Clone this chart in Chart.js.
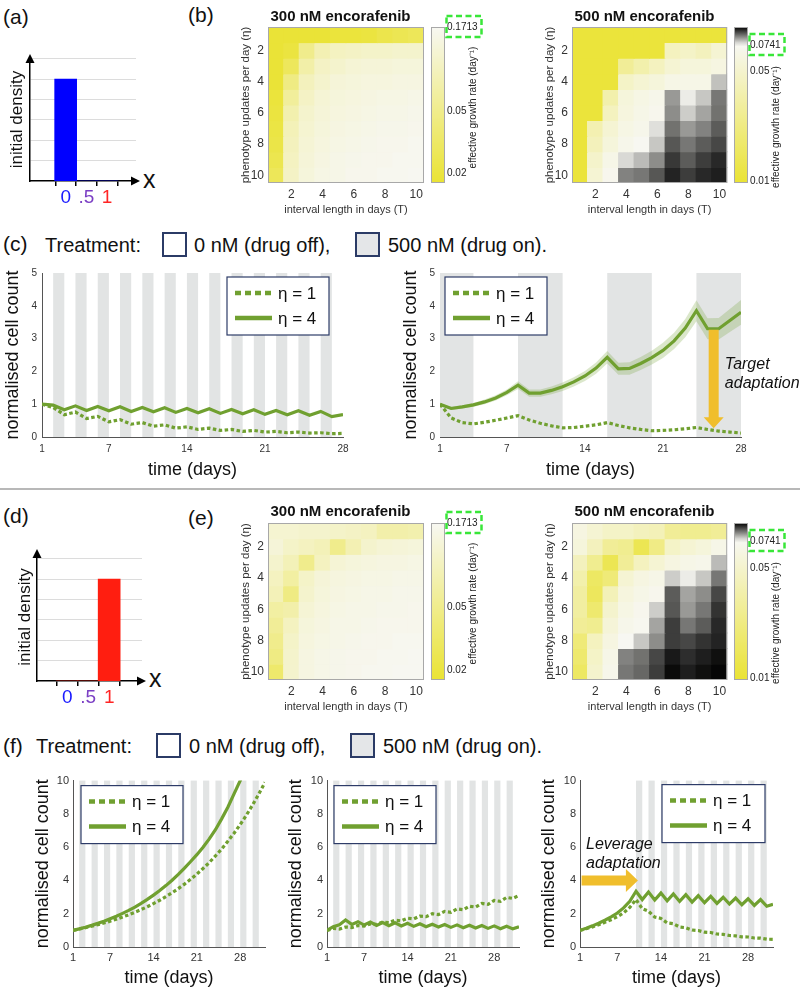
<!DOCTYPE html>
<html>
<head>
<meta charset="utf-8">
<title>encorafenib adaptation</title>
<script src="https://cdn.jsdelivr.net/npm/chart.js@4.4.1/dist/chart.umd.min.js"></script>
<style>
  html, body { margin: 0; padding: 0; background: #fff; }
  #page { position: relative; width: 800px; height: 989px; overflow: hidden; font-family: 'Liberation Sans', Arial, sans-serif; color: #111; }
  .box { position: absolute; }
  .box canvas { display: block; }
  .txt { position: absolute; white-space: nowrap; line-height: 1; }
  .panel { font-size: 21px; }
  .treat { font-size: 20px; }
  .axx { font-size: 25px; }
  .swatch { position: absolute; width: 25px; height: 25px; box-sizing: border-box; border: 2px solid #2b3b66; }
  #sep { position: absolute; left: 0; top: 488px; width: 800px; height: 2px; background: #b8b8b8; }
</style>
</head>
<body>
<div id="page">
  <div class="txt panel" style="left:3px;top:6px">(a)</div>
  <div class="txt panel" style="left:188px;top:4px">(b)</div>
  <div class="txt axx" style="left:143px;top:167px">x</div>

  <div class="txt panel" style="left:3px;top:233px">(c)</div>
  <div class="txt treat" style="left:45px;top:235px">Treatment:</div>
  <div class="swatch" style="left:162px;top:232px;background:#fff"></div>
  <div class="txt treat" style="left:194px;top:235px">0 nM (drug off),</div>
  <div class="swatch" style="left:355px;top:232px;background:#e4e6e8"></div>
  <div class="txt treat" style="left:388px;top:235px">500 nM (drug on).</div>

  <div id="sep"></div>

  <div class="txt panel" style="left:3px;top:505px">(d)</div>
  <div class="txt panel" style="left:188px;top:507px">(e)</div>
  <div class="txt axx" style="left:149px;top:666px">x</div>

  <div class="txt panel" style="left:3px;top:735px">(f)</div>
  <div class="txt treat" style="left:36px;top:736px">Treatment:</div>
  <div class="swatch" style="left:156px;top:733px;background:#fff"></div>
  <div class="txt treat" style="left:189px;top:736px">0 nM (drug off),</div>
  <div class="swatch" style="left:350px;top:733px;background:#e4e6e8"></div>
  <div class="txt treat" style="left:383px;top:736px">500 nM (drug on).</div>
</div>

<script>
Chart.defaults.font.family = "'Liberation Sans', Arial, sans-serif";
Chart.defaults.color = '#333';
Chart.defaults.animation = false;
Chart.defaults.plugins.legend.display = false;
Chart.defaults.plugins.tooltip.enabled = false;

// ---------- data ----------

// (a), (d) initial densities
const densityX = [0, 0.5, 1];
const densityLabels = ['0', '.5', '1'];
const densityColors = ['#1a1aff', '#7b3fc4', '#ff2424'];
const densityA = [5, 0, 0];
const densityD = [0, 0, 5];
const densityGrid = [1, 2, 3, 4, 5, 6];

// (b), (e) heatmaps: rows = phenotype updates per day, cols = interval length
const heatT = [1, 2, 3, 4, 5, 6, 7, 8, 9, 10];
const heatEta = [1, 2, 3, 4, 5, 6, 7, 8, 9, 10];
const heatTicks = [2, 4, 6, 8, 10];

const rate300a = [
  [0.018, 0.018, 0.018, 0.018, 0.019, 0.019, 0.020, 0.023, 0.025, 0.027],
  [0.018, 0.020, 0.050, 0.080, 0.095, 0.100, 0.105, 0.105, 0.110, 0.110],
  [0.018, 0.028, 0.070, 0.100, 0.110, 0.120, 0.125, 0.125, 0.130, 0.130],
  [0.018, 0.045, 0.090, 0.110, 0.125, 0.130, 0.135, 0.135, 0.140, 0.140],
  [0.019, 0.060, 0.100, 0.120, 0.130, 0.135, 0.140, 0.145, 0.145, 0.150],
  [0.020, 0.075, 0.110, 0.125, 0.135, 0.140, 0.145, 0.150, 0.150, 0.155],
  [0.021, 0.085, 0.115, 0.130, 0.140, 0.145, 0.150, 0.155, 0.155, 0.160],
  [0.022, 0.090, 0.120, 0.135, 0.145, 0.150, 0.155, 0.160, 0.160, 0.165],
  [0.024, 0.095, 0.125, 0.140, 0.150, 0.155, 0.160, 0.160, 0.165, 0.165],
  [0.027, 0.100, 0.130, 0.145, 0.150, 0.160, 0.160, 0.165, 0.165, 0.170]
];

const rate500a = [
  [0.0105, 0.0105, 0.0105, 0.0105, 0.0105, 0.0105, 0.0105, 0.0105, 0.0105, 0.0105],
  [0.0105, 0.0105, 0.0105, 0.0105, 0.0105, 0.0105, 0.043, 0.047, 0.042, 0.053],
  [0.0105, 0.0105, 0.0105, 0.028, 0.035, 0.043, 0.053, 0.058, 0.058, 0.062],
  [0.0105, 0.0105, 0.0105, 0.047, 0.053, 0.058, 0.065, 0.066, 0.066, 0.0785],
  [0.0105, 0.0105, 0.035, 0.058, 0.064, 0.068, 0.082, 0.075, 0.078, 0.085],
  [0.0105, 0.0105, 0.043, 0.060, 0.066, 0.070, 0.083, 0.0775, 0.081, 0.0855],
  [0.0105, 0.037, 0.053, 0.064, 0.068, 0.076, 0.0855, 0.082, 0.084, 0.0875],
  [0.0105, 0.041, 0.058, 0.068, 0.073, 0.078, 0.088, 0.085, 0.0875, 0.0895],
  [0.0105, 0.049, 0.066, 0.0765, 0.079, 0.083, 0.091, 0.0875, 0.0905, 0.0925],
  [0.0105, 0.053, 0.070, 0.084, 0.085, 0.088, 0.093, 0.0905, 0.0925, 0.0935]
];

const rate300b = [
  [0.115, 0.115, 0.110, 0.110, 0.105, 0.100, 0.094, 0.072, 0.072, 0.075],
  [0.125, 0.103, 0.094, 0.085, 0.050, 0.080, 0.110, 0.120, 0.125, 0.130],
  [0.110, 0.085, 0.050, 0.094, 0.120, 0.130, 0.135, 0.140, 0.140, 0.145],
  [0.094, 0.065, 0.103, 0.125, 0.135, 0.140, 0.145, 0.145, 0.150, 0.150],
  [0.085, 0.045, 0.110, 0.130, 0.140, 0.145, 0.150, 0.150, 0.155, 0.155],
  [0.065, 0.072, 0.120, 0.135, 0.145, 0.150, 0.150, 0.155, 0.155, 0.160],
  [0.057, 0.094, 0.130, 0.140, 0.150, 0.150, 0.155, 0.160, 0.160, 0.160],
  [0.050, 0.103, 0.135, 0.145, 0.150, 0.155, 0.160, 0.160, 0.165, 0.165],
  [0.045, 0.108, 0.140, 0.150, 0.155, 0.160, 0.160, 0.165, 0.165, 0.170],
  [0.034, 0.110, 0.140, 0.150, 0.155, 0.160, 0.165, 0.165, 0.170, 0.170]
];

const rate500b = [
  [0.062, 0.053, 0.047, 0.047, 0.042, 0.040, 0.028, 0.026, 0.026, 0.028],
  [0.058, 0.042, 0.028, 0.026, 0.0135, 0.023, 0.047, 0.053, 0.058, 0.066],
  [0.042, 0.026, 0.0135, 0.028, 0.043, 0.053, 0.062, 0.066, 0.068, 0.079],
  [0.035, 0.016, 0.020, 0.053, 0.062, 0.066, 0.0775, 0.075, 0.078, 0.085],
  [0.031, 0.015, 0.040, 0.060, 0.066, 0.070, 0.0875, 0.081, 0.083, 0.0895],
  [0.031, 0.018, 0.050, 0.064, 0.070, 0.0775, 0.088, 0.082, 0.085, 0.0915],
  [0.028, 0.026, 0.056, 0.068, 0.072, 0.081, 0.0905, 0.085, 0.0875, 0.0925],
  [0.020, 0.043, 0.062, 0.074, 0.078, 0.083, 0.0905, 0.0895, 0.0915, 0.093],
  [0.018, 0.047, 0.066, 0.084, 0.0855, 0.0895, 0.094, 0.092, 0.0935, 0.095],
  [0.016, 0.050, 0.068, 0.085, 0.0865, 0.0905, 0.0955, 0.0935, 0.095, 0.096]
];

// colour limits: [low (yellow), white point, high (black)]
const cbar300 = [0.0173, 0.1713, 0.1713];
const cbar500 = [0.0097, 0.0741, 0.0966];
const cbarTicks300 = [0.02, 0.05, 0.1713];
const cbarTicks500 = [0.01, 0.05, 0.0741];

// green dashed threshold curve on the 500 nM maps
const dashT = [3.25, 3.6, 4.0, 4.6, 5.3, 6.2, 7.2, 8.4, 9.5, 10.5];
const dashEta = [10.5, 9.4, 8.4, 7.3, 6.3, 5.4, 4.7, 4.0, 3.55, 3.2];

// (c) cell counts
const cDays = [1, 2, 3, 4, 5, 6, 7, 8, 9, 10, 11, 12, 13, 14, 15, 16, 17, 18, 19, 20, 21, 22, 23, 24, 25, 26, 27, 28];
const cTicks = [1, 7, 14, 21, 28];
const cYTicks = [0, 1, 2, 3, 4, 5];

const cLeftEta1 = [1.00, 0.90, 0.68, 0.76, 0.56, 0.63, 0.46, 0.53, 0.39, 0.44, 0.33, 0.37, 0.27, 0.31, 0.23, 0.27, 0.20, 0.23, 0.17, 0.20, 0.15, 0.17, 0.13, 0.15, 0.12, 0.13, 0.10, 0.11];
const cLeftEta4 = [1.00, 0.97, 0.83, 0.95, 0.81, 0.93, 0.80, 0.92, 0.78, 0.90, 0.77, 0.89, 0.75, 0.87, 0.74, 0.86, 0.72, 0.84, 0.71, 0.83, 0.69, 0.81, 0.68, 0.80, 0.66, 0.78, 0.62, 0.68];
const cLeftOnStart = [2, 4, 6, 8, 10, 12, 14, 16, 18, 20, 22, 24, 26];
const cLeftOnEnd = [3, 5, 7, 9, 11, 13, 15, 17, 19, 21, 23, 25, 27];

const cRightEta1 = [1.00, 0.58, 0.44, 0.40, 0.45, 0.51, 0.58, 0.65, 0.52, 0.42, 0.34, 0.28, 0.29, 0.33, 0.37, 0.44, 0.35, 0.28, 0.23, 0.19, 0.20, 0.22, 0.25, 0.29, 0.23, 0.18, 0.15, 0.12];
const cRightEta4 = [1.00, 0.87, 0.92, 0.98, 1.07, 1.19, 1.36, 1.58, 1.34, 1.34, 1.42, 1.53, 1.68, 1.86, 2.10, 2.43, 2.08, 2.09, 2.24, 2.42, 2.64, 2.93, 3.32, 3.85, 3.30, 3.30, 3.55, 3.80];
const cRightEta4Hi = [1.03, 0.92, 0.97, 1.04, 1.14, 1.27, 1.45, 1.70, 1.45, 1.45, 1.54, 1.66, 1.82, 2.01, 2.27, 2.62, 2.26, 2.28, 2.44, 2.63, 2.87, 3.18, 3.60, 4.17, 3.62, 3.63, 3.90, 4.18];
const cRightEta4Lo = [0.97, 0.82, 0.87, 0.92, 1.00, 1.11, 1.27, 1.46, 1.23, 1.23, 1.30, 1.40, 1.54, 1.71, 1.93, 2.24, 1.90, 1.90, 2.04, 2.21, 2.41, 2.68, 3.04, 3.53, 2.98, 2.97, 3.20, 3.42];
const cRightOnStart = [1, 8, 16, 24];
const cRightOnEnd = [4, 12, 20, 28];

// (f) cell counts
const fDays = [1, 2, 3, 4, 5, 6, 7, 8, 9, 10, 11, 12, 13, 14, 15, 16, 17, 18, 19, 20, 21, 22, 23, 24, 25, 26, 27, 28, 29, 30, 31, 32];
const fTicks = [1, 7, 14, 21, 28];
const fYTicks = [0, 2, 4, 6, 8, 10];

const f1Eta1 = [1.00, 1.08, 1.16, 1.25, 1.34, 1.44, 1.55, 1.67, 1.80, 1.94, 2.09, 2.25, 2.42, 2.61, 2.81, 3.03, 3.26, 3.51, 3.78, 4.07, 4.38, 4.72, 5.08, 5.47, 5.89, 6.35, 6.84, 7.36, 7.93, 8.54, 9.20, 9.90];
const f1Eta4 = [1.00, 1.09, 1.19, 1.30, 1.42, 1.55, 1.70, 1.85, 2.02, 2.20, 2.40, 2.62, 2.86, 3.12, 3.39, 3.69, 4.01, 4.36, 4.74, 5.14, 5.55, 6.00, 6.50, 7.05, 7.70, 8.40, 9.20, 10.00, 10.90];
const f2Eta1 = [1.00, 1.11, 1.08, 1.20, 1.17, 1.29, 1.26, 1.39, 1.36, 1.50, 1.46, 1.61, 1.57, 1.73, 1.69, 1.86, 1.82, 2.00, 1.95, 2.14, 2.09, 2.29, 2.24, 2.45, 2.40, 2.62, 2.56, 2.80, 2.74, 2.98, 2.92, 3.10];
const f2Eta4 = [1.00, 1.22, 1.33, 1.62, 1.36, 1.52, 1.32, 1.50, 1.30, 1.47, 1.28, 1.45, 1.26, 1.42, 1.24, 1.40, 1.22, 1.37, 1.20, 1.35, 1.18, 1.33, 1.16, 1.31, 1.14, 1.29, 1.12, 1.27, 1.10, 1.25, 1.09, 1.22];
const f3Eta1 = [1.00, 1.10, 1.21, 1.34, 1.48, 1.64, 1.82, 2.05, 2.38, 2.85, 2.30, 2.15, 1.80, 1.72, 1.45, 1.40, 1.20, 1.16, 1.02, 0.99, 0.89, 0.87, 0.78, 0.76, 0.69, 0.67, 0.61, 0.60, 0.54, 0.53, 0.47, 0.46];
const f3Eta4 = [1.00, 1.13, 1.27, 1.43, 1.61, 1.81, 2.04, 2.35, 2.75, 3.35, 2.85, 3.30, 2.82, 3.24, 2.78, 3.19, 2.74, 3.14, 2.70, 3.09, 2.66, 3.04, 2.62, 2.99, 2.58, 2.94, 2.54, 2.90, 2.50, 2.85, 2.45, 2.56];
const fOnStart = [2, 4, 6, 8, 10, 12, 14, 16, 18, 20, 22, 24, 26, 28, 30];
const fOnEnd = [3, 5, 7, 9, 11, 13, 15, 17, 19, 21, 23, 25, 27, 29, 31];
const f3OnStart = [10, 12, 14, 16, 18, 20, 22, 24, 26, 28, 30];
const f3OnEnd = [11, 13, 15, 17, 19, 21, 23, 25, 27, 29, 31];

// ---------- styles ----------
const FONT = "'Liberation Sans', Arial, sans-serif";
const green = '#70a030';
const greenShade = 'rgba(112,160,48,0.25)';
const bandColor = '#e2e4e4';
const arrowColor = '#f0be2c';
const yellowRGB = [234, 227, 52];
const whiteRGB = [247, 247, 242];
const blackRGB = [0, 0, 0];

function mix(a, b, t) {
  t = Math.max(0, Math.min(1, t));
  return a.map((v, i) => Math.round(v + (b[i] - v) * t));
}

// log colour scale: yellow -> white at lims[1] -> black at lims[2]
function heatColor(v, lims) {
  const lv = Math.log(v);
  let c;
  if (v <= lims[1]) {
    c = mix(yellowRGB, whiteRGB, (lv - Math.log(lims[0])) / (Math.log(lims[1]) - Math.log(lims[0])));
  } else {
    c = mix(whiteRGB, blackRGB, (lv - Math.log(lims[1])) / (Math.log(lims[2]) - Math.log(lims[1])));
  }
  return 'rgb(' + c.join(',') + ')';
}

function addCanvas(box) {
  const div = document.createElement('div');
  div.className = 'box';
  div.style.left = box.l + 'px';
  div.style.top = box.t + 'px';
  div.style.width = (box.r - box.l) + 'px';
  div.style.height = (box.b - box.t) + 'px';
  const c = document.createElement('canvas');
  div.appendChild(c);
  document.getElementById('page').appendChild(div);
  return c;
}

function toPoints(xs, ys) {
  return ys.map((y, i) => ({ x: xs[i], y: y }));
}

// ---------- plugins ----------
function bandsPlugin(starts, ends) {
  return {
    id: 'bands',
    beforeDatasetsDraw(chart) {
      const { ctx, chartArea } = chart;
      const xs = chart.scales.x;
      ctx.save();
      ctx.fillStyle = bandColor;
      starts.forEach((s, i) => {
        const a = xs.getPixelForValue(s);
        const b = xs.getPixelForValue(ends[i]);
        ctx.fillRect(a, chartArea.top, b - a, chartArea.bottom - chartArea.top);
      });
      ctx.restore();
    }
  };
}

function legendPlugin(dx, dy, w, h) {
  return {
    id: 'legendBox',
    afterDatasetsDraw(chart) {
      const { ctx, chartArea } = chart;
      const x = chartArea.left + dx;
      const y = chartArea.top + dy;
      ctx.save();
      ctx.fillStyle = '#fff';
      ctx.fillRect(x, y, w, h);
      ctx.strokeStyle = '#2e3c68';
      ctx.lineWidth = 1.2;
      ctx.strokeRect(x, y, w, h);
      const entries = chart.data.datasets.filter(d => d.label);
      entries.forEach((d, i) => {
        const yy = y + 16 + i * 25;
        ctx.beginPath();
        ctx.setLineDash(d.borderDash && d.borderDash.length ? [6, 4] : []);
        ctx.strokeStyle = d.borderColor;
        ctx.lineWidth = 4.5;
        ctx.moveTo(x + 8, yy);
        ctx.lineTo(x + 45, yy);
        ctx.stroke();
        ctx.setLineDash([]);
        ctx.fillStyle = '#111';
        ctx.font = '17px ' + FONT;
        ctx.textAlign = 'left';
        ctx.textBaseline = 'middle';
        ctx.fillText(d.label, x + 51, yy + 1);
      });
      ctx.restore();
    }
  };
}

function arrowPlugin(x0, y0, x1, y1, halfBody, headLen, halfHead) {
  return {
    id: 'bigArrow',
    afterDatasetsDraw(chart) {
      const { ctx } = chart;
      const xs = chart.scales.x, ys = chart.scales.y;
      const ax = xs.getPixelForValue(x0), ay = ys.getPixelForValue(y0);
      const bx = xs.getPixelForValue(x1), by = ys.getPixelForValue(y1);
      const len = Math.hypot(bx - ax, by - ay);
      ctx.save();
      ctx.translate(ax, ay);
      ctx.rotate(Math.atan2(by - ay, bx - ax));
      ctx.fillStyle = arrowColor;
      ctx.beginPath();
      ctx.moveTo(0, -halfBody);
      ctx.lineTo(len - headLen, -halfBody);
      ctx.lineTo(len - headLen, -halfHead);
      ctx.lineTo(len, 0);
      ctx.lineTo(len - headLen, halfHead);
      ctx.lineTo(len - headLen, halfBody);
      ctx.lineTo(0, halfBody);
      ctx.closePath();
      ctx.fill();
      ctx.restore();
    }
  };
}

// texts placed in data units (data: true) or in px from the chart area corner
function textPlugin(items) {
  return {
    id: 'texts',
    afterDraw(chart) {
      const { ctx, chartArea } = chart;
      items.forEach(it => {
        let x, y;
        if (it.data) {
          x = chart.scales.x.getPixelForValue(it.x);
          y = chart.scales.y.getPixelForValue(it.y);
        } else {
          x = chartArea.left + it.x;
          y = chartArea.top + it.y;
        }
        ctx.save();
        ctx.translate(x, y);
        if (it.rot) ctx.rotate(it.rot);
        ctx.font = it.font;
        ctx.fillStyle = it.color || '#111';
        ctx.textAlign = it.align || 'left';
        ctx.textBaseline = 'middle';
        ctx.fillText(it.text, 0, 0);
        ctx.restore();
      });
    }
  };
}

const framePlugin = {
  id: 'frame',
  afterDatasetsDraw(chart) {
    const { ctx, chartArea: a } = chart;
    ctx.save();
    ctx.strokeStyle = '#a8a8a8';
    ctx.lineWidth = 1;
    ctx.strokeRect(a.left + 0.5, a.top + 0.5, a.right - a.left - 1, a.bottom - a.top - 1);
    ctx.restore();
  }
};

function limitBoxPlugin(value) {
  return {
    id: 'limitBox',
    afterDraw(chart) {
      const { ctx, chartArea } = chart;
      const y = chart.scales.y.getPixelForValue(value);
      ctx.save();
      ctx.setLineDash([6, 3.5]);
      ctx.strokeStyle = '#39e639';
      ctx.lineWidth = 2.5;
      ctx.strokeRect(chartArea.right + 1.5, y - 11, 35, 21);
      ctx.restore();
    }
  };
}

const axisArrows = {
  id: 'axisArrows',
  afterDraw(chart) {
    const { ctx, chartArea: a } = chart;
    ctx.save();
    ctx.fillStyle = '#000';
    ctx.beginPath();
    ctx.moveTo(a.left, a.top - 4);
    ctx.lineTo(a.left - 4.5, a.top + 5);
    ctx.lineTo(a.left + 4.5, a.top + 5);
    ctx.closePath();
    ctx.fill();
    ctx.beginPath();
    ctx.moveTo(a.right + 4, a.bottom);
    ctx.lineTo(a.right - 5, a.bottom - 4.5);
    ctx.lineTo(a.right - 5, a.bottom + 4.5);
    ctx.closePath();
    ctx.fill();
    ctx.restore();
  }
};

// ---------- (a), (d) ----------
function densityChart(box, area, values, barColor, px0, pxPerUnit, titleCenter) {
  new Chart(addCanvas(box), {
    type: 'bar',
    data: {
      datasets: [{
        data: toPoints(densityX, values),
        backgroundColor: barColor,
        barThickness: 22,
        borderWidth: 0
      }]
    },
    options: {
      responsive: true,
      maintainAspectRatio: false,
      layout: { padding: { top: area.t - box.t, right: box.r - area.r, left: 0, bottom: 0 } },
      scales: {
        x: {
          type: 'linear',
          min: (area.l - px0) / pxPerUnit,
          max: (area.r - px0) / pxPerUnit,
          afterBuildTicks: s => { s.ticks = densityX.map(v => ({ value: v })); },
          ticks: {
            callback: (v, i) => densityLabels[i],
            color: c => densityColors[c.index],
            font: { size: 19 },
            padding: 0
          },
          grid: { display: true, drawOnChartArea: false, drawTicks: true, tickLength: 5, color: '#000', lineWidth: 1.5 },
          border: { display: true, color: '#000', width: 1.5 },
          afterFit: s => { s.height = box.b - area.b; }
        },
        y: {
          min: 0,
          max: (area.b - area.t) / 20.4,
          afterBuildTicks: s => { s.ticks = densityGrid.map(v => ({ value: v })); },
          ticks: { display: false },
          grid: { color: '#dcdcdc', drawTicks: false },
          border: { display: true, color: '#000', width: 1.5 },
          title: { display: true, text: 'initial density', font: { size: 17 }, color: '#111', padding: { top: titleCenter - box.l - 10.2, bottom: 0 } },
          afterFit: s => { s.width = area.l - box.l; }
        }
      }
    },
    plugins: [axisArrows]
  });
}

densityChart({ l: 0, t: 38, r: 165, b: 222 }, { l: 30, t: 58, r: 136, b: 181 }, densityA, '#0000ff', 57, 62, 17.5);
densityChart({ l: 0, t: 533, r: 175, b: 718 }, { l: 37, t: 553, r: 142, b: 681 }, densityD, '#ff1e10', 56, 63, 25);

// ---------- (b), (e) heatmaps ----------
function heatChart(box, area, rates, lims, title, withCurve) {
  const datasets = heatEta.map((eta, r) => ({
    type: 'bar',
    data: heatT.map(() => [eta - 0.5, eta + 0.5]),
    backgroundColor: rates[r].map(v => heatColor(v, lims)),
    borderWidth: 0,
    inflateAmount: 0.5,
    barPercentage: 1,
    categoryPercentage: 1,
    grouped: false,
    xAxisID: 'x',
    yAxisID: 'y'
  }));
  if (withCurve) {
    datasets.push({
      type: 'line',
      data: toPoints(dashT, dashEta),
      xAxisID: 'x2',
      yAxisID: 'y',
      borderColor: '#3ded3d',
      borderWidth: 3,
      borderDash: [9, 7],
      pointRadius: 0,
      fill: false,
      tension: 0.3
    });
  }
  new Chart(addCanvas(box), {
    type: 'bar',
    data: { labels: heatT.map(String), datasets: datasets },
    options: {
      responsive: true,
      maintainAspectRatio: false,
      layout: { padding: { top: area.t - box.t, right: box.r - area.r, left: 0, bottom: 0 } },
      scales: {
        x: {
          type: 'category',
          offset: true,
          grid: { display: false, drawTicks: false },
          border: { display: false },
          ticks: {
            autoSkip: false,
            maxRotation: 0,
            font: { size: 12 },
            padding: 4.8,
            callback: (v, i) => (heatT[i] % 2 === 0 ? String(heatT[i]) : '')
          },
          title: { display: true, text: 'interval length in days (T)', font: { size: 11 }, color: '#333', padding: { top: 0, bottom: box.b - 6.6 - (area.b + 27) } },
          afterFit: s => { s.height = box.b - area.b; }
        },
        x2: { type: 'linear', display: false, min: 0.5, max: 10.5 },
        y: {
          type: 'linear',
          reverse: true,
          min: 0.5,
          max: 10.5,
          afterBuildTicks: s => { s.ticks = heatTicks.map(v => ({ value: v })); },
          grid: { display: false, drawTicks: false },
          border: { display: false },
          ticks: { font: { size: 12 }, padding: 4 },
          title: { display: true, text: 'phenotype updates per day (η)', font: { size: 11.5 }, color: '#333', padding: { top: area.l - 22.5 - box.l - 6.9, bottom: 0 } },
          afterFit: s => { s.width = area.l - box.l; }
        }
      }
    },
    plugins: [framePlugin, textPlugin([
      { text: title, x: 72.5, y: area.t < 100 ? -10 : -11.3, font: 'bold 15px ' + FONT, align: 'center', color: '#111' }
    ])]
  });
}

function colorbarChart(box, area, lims, ticks, labelY) {
  const lo = lims[0], hi = lims[2];
  new Chart(addCanvas(box), {
    type: 'bar',
    data: {
      labels: [''],
      datasets: [{
        data: [[lo, hi]],
        barPercentage: 1,
        categoryPercentage: 1,
        borderWidth: 0,
        backgroundColor: (c) => {
          const chart = c.chart;
          const a = chart.chartArea;
          if (!a) return null;
          const g = chart.ctx.createLinearGradient(0, a.bottom, 0, a.top);
          for (let k = 0; k <= 40; k++) {
            const f = k / 40;
            g.addColorStop(f, heatColor(lo * Math.pow(hi / lo, f), lims));
          }
          return g;
        }
      }]
    },
    options: {
      responsive: true,
      maintainAspectRatio: false,
      layout: { padding: { top: area.t - box.t, bottom: box.b - area.b, left: 0, right: 0 } },
      scales: {
        x: { display: false, offset: true },
        y: {
          type: 'logarithmic',
          position: 'right',
          min: lo,
          max: hi,
          afterBuildTicks: s => { s.ticks = ticks.map(v => ({ value: v })); },
          ticks: { callback: v => String(v), font: { size: 10 }, padding: 2, color: '#222' },
          grid: { display: false, drawTicks: false },
          border: { display: false },
          afterFit: s => { s.width = box.r - area.r; }
        }
      }
    },
    plugins: [framePlugin, limitBoxPlugin(ticks[ticks.length - 1]), textPlugin([
      { text: 'effective growth rate (day⁻¹)', x: (area.r - area.l) + 28.5, y: labelY, rot: -Math.PI / 2, font: '10px ' + FONT, align: 'center', color: '#222' }
    ])]
  });
}

heatChart({ l: 222, t: 0, r: 428, b: 220 }, { l: 268, t: 27, r: 424, b: 183 }, rate300a, cbar300, '300 nM encorafenib', false);
colorbarChart({ l: 431, t: 8, r: 495, b: 193 }, { l: 431, t: 27, r: 445, b: 183 }, cbar300, cbarTicks300, 80.5);
heatChart({ l: 526, t: 0, r: 731, b: 220 }, { l: 572, t: 27, r: 729, b: 183 }, rate500a, cbar500, '500 nM encorafenib', true);
colorbarChart({ l: 734, t: 8, r: 798, b: 193 }, { l: 734, t: 27, r: 748, b: 183 }, cbar500, cbarTicks500, 100);

heatChart({ l: 222, t: 496, r: 428, b: 716 }, { l: 268, t: 523, r: 424, b: 680 }, rate300b, cbar300, '300 nM encorafenib', false);
colorbarChart({ l: 431, t: 504, r: 495, b: 690 }, { l: 431, t: 523, r: 445, b: 680 }, cbar300, cbarTicks300, 80.5);
heatChart({ l: 526, t: 496, r: 731, b: 716 }, { l: 572, t: 523, r: 729, b: 680 }, rate500b, cbar500, '500 nM encorafenib', true);
colorbarChart({ l: 734, t: 504, r: 798, b: 690 }, { l: 734, t: 523, r: 748, b: 680 }, cbar500, cbarTicks500, 100);

// ---------- (c), (f) cell counts ----------
function countChart(box, area, o) {
  const datasets = [];
  if (o.hi) {
    datasets.push({ data: toPoints(o.days, o.hi), borderWidth: 0, pointRadius: 0, fill: '+1', backgroundColor: greenShade });
    datasets.push({ data: toPoints(o.days, o.lo), borderWidth: 0, pointRadius: 0, fill: false });
  }
  datasets.push({ label: 'η = 1', data: toPoints(o.days, o.eta1), borderColor: green, borderWidth: 3.2, borderDash: [3.5, 2.5], borderCapStyle: 'butt', pointRadius: 0, fill: false, tension: 0 });
  datasets.push({ label: 'η = 4', data: toPoints(o.days, o.eta4), borderColor: green, borderWidth: 3.2, pointRadius: 0, fill: false, tension: 0 });

  const plugins = [bandsPlugin(o.onStart, o.onEnd), legendPlugin(o.legend[0], o.legend[1], o.legend[2], 58)];
  if (o.arrow) plugins.push(arrowPlugin.apply(null, o.arrow));
  if (o.notes) plugins.push(textPlugin(o.notes));

  new Chart(addCanvas(box), {
    type: 'line',
    data: { datasets: datasets },
    options: {
      responsive: true,
      maintainAspectRatio: false,
      layout: { padding: { top: area.t - box.t, right: box.r - area.r, left: 0, bottom: 0 } },
      scales: {
        x: {
          type: 'linear',
          min: o.days[0],
          max: o.xmax,
          afterBuildTicks: s => { s.ticks = o.xTicks.map(v => ({ value: v })); },
          grid: { display: false, drawTicks: false },
          border: { display: true, color: '#555', width: 1 },
          ticks: { font: { size: o.tick }, padding: o.xLabelOff - o.tick * 0.6, color: '#333' },
          title: { display: true, text: 'time (days)', font: { size: 18 }, color: '#111', padding: { top: 0, bottom: box.b - 10.8 - (area.b + o.xTitleOff) } },
          afterFit: s => { s.height = box.b - area.b; }
        },
        y: {
          min: 0,
          max: o.ymax,
          afterBuildTicks: s => { s.ticks = o.yTicks.map(v => ({ value: v })); },
          grid: { display: false, drawTicks: false },
          border: { display: true, color: '#555', width: 1 },
          ticks: { font: { size: o.tick }, padding: o.yPad, color: '#333' },
          title: { display: true, text: 'normalised cell count', font: { size: 18 }, color: '#111', padding: { top: area.l - o.yTitleOff - box.l - 10.8, bottom: 0 } },
          afterFit: s => { s.width = area.l - box.l; }
        }
      }
    },
    plugins: plugins
  });
}

const italic16 = 'italic 16px ' + FONT;

countChart({ l: 0, t: 262, r: 362, b: 482 }, { l: 42, t: 270, r: 343, b: 437 }, {
  days: cDays, eta1: cLeftEta1, eta4: cLeftEta4, onStart: cLeftOnStart, onEnd: cLeftOnEnd,
  xmax: 28, xTicks: cTicks, ymax: 5, yTicks: cYTicks, tick: 10, yPad: 5,
  xLabelOff: 12, xTitleOff: 33, yTitleOff: 29, legend: [185, 4, 102]
});

countChart({ l: 398, t: 262, r: 800, b: 482 }, { l: 440, t: 270, r: 741, b: 437 }, {
  days: cDays, eta1: cRightEta1, eta4: cRightEta4, hi: cRightEta4Hi, lo: cRightEta4Lo,
  onStart: cRightOnStart, onEnd: cRightOnEnd,
  xmax: 28, xTicks: cTicks, ymax: 5, yTicks: cYTicks, tick: 10, yPad: 5,
  xLabelOff: 12, xTitleOff: 33, yTitleOff: 29, legend: [5, 4, 102],
  arrow: [25.55, 3.27, 25.55, 0.27, 5, 11, 10],
  notes: [
    { text: 'Target', x: 26.55, y: 2.22, data: true, font: italic16 },
    { text: 'adaptation', x: 26.55, y: 1.62, data: true, font: italic16 }
  ]
});

countChart({ l: 30, t: 770, r: 282, b: 989 }, { l: 73, t: 779, r: 265, b: 947 }, {
  days: fDays, eta1: f1Eta1, eta4: f1Eta4, onStart: fOnStart, onEnd: fOnEnd,
  xmax: 32, xTicks: fTicks, ymax: 10, yTicks: fYTicks, tick: 11, yPad: 4,
  xLabelOff: 11, xTitleOff: 31, yTitleOff: 30, legend: [8, 5, 102]
});

countChart({ l: 284, t: 770, r: 534, b: 989 }, { l: 327, t: 779, r: 519, b: 947 }, {
  days: fDays, eta1: f2Eta1, eta4: f2Eta4, onStart: fOnStart, onEnd: fOnEnd,
  xmax: 32, xTicks: fTicks, ymax: 10, yTicks: fYTicks, tick: 11, yPad: 4,
  xLabelOff: 11, xTitleOff: 31, yTitleOff: 30.5, legend: [7, 5, 102]
});

countChart({ l: 537, t: 770, r: 790, b: 989 }, { l: 580, t: 779, r: 773, b: 947 }, {
  days: fDays, eta1: f3Eta1, eta4: f3Eta4, onStart: f3OnStart, onEnd: f3OnEnd,
  xmax: 32, xTicks: fTicks, ymax: 10, yTicks: fYTicks, tick: 11, yPad: 4,
  xLabelOff: 11, xTitleOff: 31, yTitleOff: 30.5, legend: [82, 4, 103],
  arrow: [1.25, 4.0, 10.3, 4.0, 5, 12, 11.5],
  notes: [
    { text: 'Leverage', x: 1.97, y: 6.13, data: true, font: italic16 },
    { text: 'adaptation', x: 1.97, y: 5.0, data: true, font: italic16 }
  ]
});
</script>
</body>
</html>
